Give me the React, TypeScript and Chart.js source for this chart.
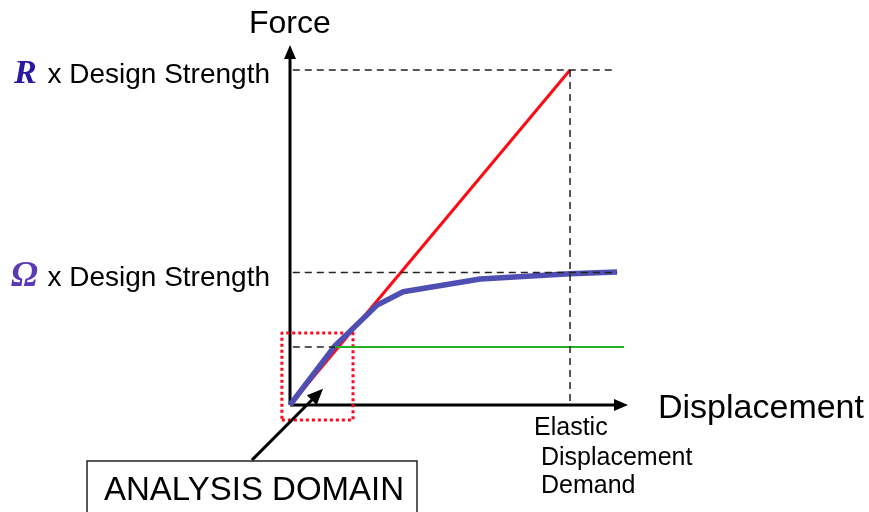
import React, { useEffect, useRef } from "react";
import { Chart, registerables } from "chart.js";

Chart.register(...registerables);

// ---- data (conceptual units) ----
const X_MAX = 12.07;
const Y_MAX = 6.2;
const designStrength = 1.0;
const omegaLevel = 2.28;
const rLevel = 5.77;
const elasticDemand = 10;

const elasticX = [0, 10];
const elasticY = [0, 5.77];
const inelasticX = [0, 1.61, 3.11, 4.04, 6.79, 10, 11.68];
const inelasticY = [0, 1.02, 1.72, 1.95, 2.17, 2.26, 2.29];
const designX = [1.61, 11.93];
const designY = [1.0, 1.0];
const domainBoxX = [-0.29, 2.25, 2.25, -0.29, -0.29];
const domainBoxY = [-0.26, -0.26, 1.24, 1.24, -0.26];
const calloutFrom = { x: -1.36, y: -0.95 };
const calloutTo = { x: 1.18, y: 0.28 };

const zip = (xs: number[], ys: number[]) => xs.map((x, i) => ({ x, y: ys[i] }));

const FONT = "'Liberation Sans', Arial, sans-serif";

function arrowHead(ctx: CanvasRenderingContext2D, fx: number, fy: number, tx: number, ty: number, len: number, half: number) {
  const a = Math.atan2(ty - fy, tx - fx);
  ctx.beginPath();
  ctx.moveTo(tx, ty);
  ctx.lineTo(tx - len * Math.cos(a) + half * Math.sin(a), ty - len * Math.sin(a) - half * Math.cos(a));
  ctx.lineTo(tx - len * Math.cos(a) - half * Math.sin(a), ty - len * Math.sin(a) + half * Math.cos(a));
  ctx.closePath();
  ctx.fill();
}

const diagramPlugin = {
  id: "diagram",
  beforeDatasetsDraw(chart: any) {
    const ctx = chart.ctx as CanvasRenderingContext2D;
    const xs = chart.scales.x;
    const ys = chart.scales.y;
    const ox = xs.getPixelForValue(0);
    const oy = ys.getPixelForValue(0);
    const yTop = ys.getPixelForValue(Y_MAX);
    const xEnd = xs.getPixelForValue(X_MAX);
    ctx.save();
    ctx.strokeStyle = "#000";
    ctx.fillStyle = "#000";
    ctx.lineWidth = 3;
    ctx.beginPath();
    ctx.moveTo(ox, oy);
    ctx.lineTo(ox, yTop + 10);
    ctx.moveTo(ox, oy);
    ctx.lineTo(xEnd - 10, oy);
    ctx.stroke();
    arrowHead(ctx, ox, oy, ox, yTop, 14, 6);
    arrowHead(ctx, ox, oy, xEnd, oy, 14, 6);
    ctx.restore();
  },
  afterDraw(chart: any) {
    const ctx = chart.ctx as CanvasRenderingContext2D;
    const xs = chart.scales.x;
    const ys = chart.scales.y;
    ctx.save();
    // callout arrow
    const fx = xs.getPixelForValue(calloutFrom.x);
    const fy = ys.getPixelForValue(calloutFrom.y);
    const tx = xs.getPixelForValue(calloutTo.x);
    const ty = ys.getPixelForValue(calloutTo.y);
    ctx.strokeStyle = "#000";
    ctx.fillStyle = "#000";
    ctx.lineWidth = 3;
    ctx.beginPath();
    ctx.moveTo(fx, fy);
    ctx.lineTo(tx - 8, ty + 8);
    ctx.stroke();
    arrowHead(ctx, fx, fy, tx, ty, 16, 7);

    // annotation box
    ctx.lineWidth = 1.5;
    ctx.strokeStyle = "#222";
    ctx.fillStyle = "#fff";
    ctx.fillRect(87, 461, 330, 70);
    ctx.strokeRect(87, 461, 330, 70);
    ctx.fillStyle = "#000";
    ctx.font = `33px ${FONT}`;
    ctx.textAlign = "center";
    ctx.textBaseline = "alphabetic";
    ctx.fillText("ANALYSIS DOMAIN", 254, 500);

    // axis titles
    ctx.textAlign = "left";
    ctx.font = `32px ${FONT}`;
    ctx.fillText("Force", 249, 33);
    ctx.font = `34px ${FONT}`;
    ctx.fillText("Displacement", 658, 418);

    // elastic demand label
    ctx.font = `25px ${FONT}`;
    ctx.fillText("Elastic", 534, 435);
    ctx.fillText("Displacement", 541, 465);
    ctx.fillText("Demand", 541, 493);

    // level labels
    const ry = ys.getPixelForValue(rLevel);
    const wy = ys.getPixelForValue(omegaLevel);
    ctx.font = `28px ${FONT}`;
    ctx.textAlign = "right";
    ctx.fillText("x Design Strength", 270, ry + 13);
    ctx.fillText("x Design Strength", 270, wy + 13);
    ctx.textAlign = "left";
    ctx.font = `italic bold 34px 'Liberation Serif', 'Times New Roman', serif`;
    ctx.fillStyle = "#2a17a3";
    ctx.fillText("R", 14, ry + 13);
    ctx.fillStyle = "#5a3ab4";
    ctx.font = `italic bold 36px 'Liberation Serif', 'Times New Roman', serif`;
    ctx.fillText("Ω", 11, wy + 13);
    ctx.restore();
  },
};

export default function App() {
  const ref = useRef<HTMLCanvasElement | null>(null);
  useEffect(() => {
    if (!ref.current) return;
    const dash = {
      borderColor: "#222",
      borderWidth: 1.5,
      borderDash: [7, 5],
      pointRadius: 0,
      showLine: true,
      clip: false as any,
    };
    const chart = new Chart(ref.current, {
      type: "scatter",
      data: {
        datasets: [
          { ...dash, data: zip([0.1, 11.5], [rLevel, rLevel]) },
          { ...dash, data: zip([0.1, 11.68], [omegaLevel, omegaLevel]) },
          { ...dash, data: zip([0.1, 1.61], [designStrength, designStrength]) },
          { ...dash, data: zip([elasticDemand, elasticDemand], [rLevel, 0]) },
          {
            data: zip(designX, designY),
            borderColor: "#22b022",
            borderWidth: 2,
            pointRadius: 0,
            showLine: true,
            clip: false as any,
          },
          {
            data: zip(inelasticX, inelasticY),
            borderColor: "#4f4fb3",
            borderWidth: 5.5,
            pointRadius: 0,
            showLine: true,
            borderJoinStyle: "round",
            clip: false as any,
          },
          {
            data: zip(elasticX, elasticY),
            borderColor: "#ff0a14",
            borderWidth: 3,
            pointRadius: 0,
            showLine: true,
            clip: false as any,
          },
          {
            data: zip(domainBoxX, domainBoxY),
            borderColor: "#ff0a1e",
            borderWidth: 3,
            borderDash: [3, 3],
            pointRadius: 0,
            showLine: true,
            borderJoinStyle: "round",
            clip: false as any,
          },
        ],
      },
      options: {
        responsive: false,
        animation: false,
        layout: { padding: { left: 290, right: 241, top: 45, bottom: 107 } },
        plugins: { legend: { display: false }, tooltip: { enabled: false } },
        scales: {
          x: { type: "linear", min: 0, max: X_MAX, display: false },
          y: { type: "linear", min: 0, max: Y_MAX, display: false },
        },
      },
      plugins: [diagramPlugin],
    });
    return () => chart.destroy();
  }, []);
  return (
    <div style={{ position: "fixed", left: 0, top: 0, width: 869, height: 512, background: "#fff" }}>
      <canvas ref={ref} width={869} height={512} style={{ width: 869, height: 512 }} />
    </div>
  );
}
